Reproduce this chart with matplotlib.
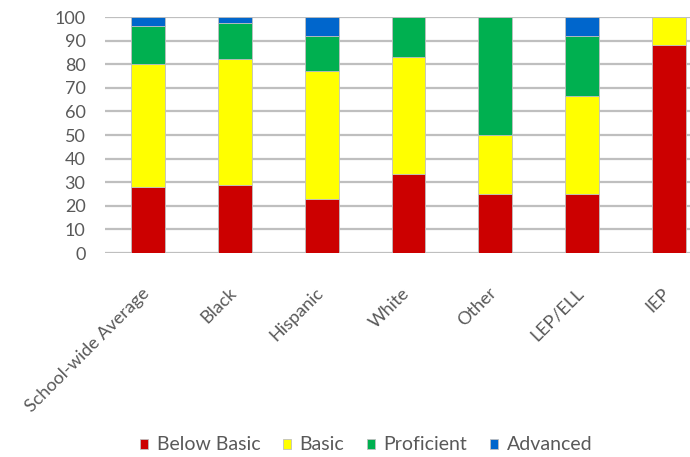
import numpy as np
import matplotlib.pyplot as plt
import matplotlib.transforms as mtransforms

plt.rcParams['font.family'] = ['Lato', 'DejaVu Sans']

groups = ['School-wide Average', 'Black', 'Hispanic', 'White', 'Other', 'LEP/ELL', 'IEP']
below_basic = [28, 29, 23, 33.5, 25, 25, 88]
basic = [52, 53, 54, 49.5, 25, 41.5, 12]
proficient = [16, 15.5, 15, 17, 50, 25.5, 0]
advanced = [4, 2.5, 8, 0, 0, 8, 0]

series = [('Below Basic', below_basic, '#CC0000'),
          ('Basic', basic, '#FFFF00'),
          ('Proficient', proficient, '#00B050'),
          ('Advanced', advanced, '#0066CC')]

grey = '#595959'

fig = plt.figure(figsize=(6.9, 4.57), dpi=100)
ax = fig.add_axes([105/690, 1 - 253/457, 607/690, 236/457])

x = np.arange(len(groups))
bottom = np.zeros(len(groups))
for name, vals, col in series:
    vals = np.array(vals, dtype=float)
    ax.bar(x, vals, 0.39, bottom=bottom, color=col, label=name,
           edgecolor='#BFBFBF', linewidth=0.6, zorder=3)
    bottom += vals

ax.set_xlim(-0.5, 6.5)
ax.set_ylim(0, 100)
ax.set_yticks(np.arange(0, 101, 10))
ax.yaxis.grid(True, color='#BFBFBF', linewidth=1.6, zorder=0)
ax.set_axisbelow(True)
for s in ax.spines.values():
    s.set_visible(False)
ax.tick_params(axis='both', length=0, labelsize=13, colors=grey)
ax.tick_params(axis='y', pad=14)
ax.tick_params(axis='x', pad=20)
ax.set_xticks(x)
ax.set_xticklabels(groups, rotation=45, ha='right', rotation_mode='anchor')
shift = mtransforms.ScaledTranslation(-5/72, -3/72, fig.dpi_scale_trans)
for lbl in ax.get_xticklabels():
    lbl.set_transform(lbl.get_transform() + shift)

fig.legend(loc='center', bbox_to_anchor=(366/690, 12/457), ncol=4, frameon=False,
           fontsize=14, labelcolor=grey, handlelength=0.42, handleheight=0.42,
           handletextpad=0.45, columnspacing=1.15)

fig.savefig('out.png', dpi=100)
